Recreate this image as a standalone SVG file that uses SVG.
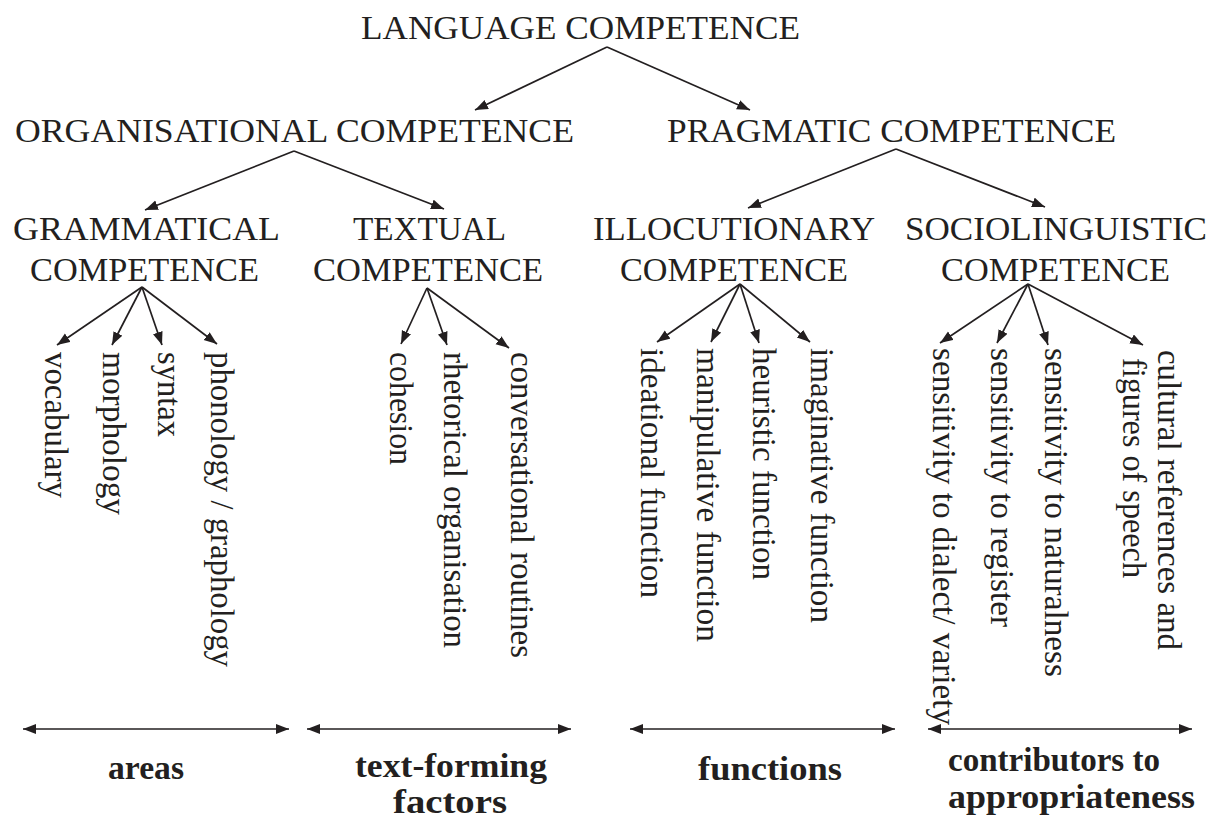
<svg xmlns="http://www.w3.org/2000/svg" width="1210" height="825" viewBox="0 0 1210 825">
<style>
text{font-family:"Liberation Serif","Times New Roman",serif;fill:#231f20}
.h{font-size:34px}
.r{font-size:33px}
.b{font-size:33px;font-weight:bold}
.c line{stroke:#231f20;stroke-width:1.7}
.a line{marker-end:url(#ah)}
.d line{marker-start:url(#ahs);marker-end:url(#ah)}
</style>
<defs>
<marker id="ah" markerUnits="userSpaceOnUse" markerWidth="14" markerHeight="11" refX="13" refY="5" orient="auto"><path d="M0,0 L13,5 L0,10 z" fill="#231f20"/></marker>
<marker id="ahs" markerUnits="userSpaceOnUse" markerWidth="14" markerHeight="11" refX="13" refY="5" orient="auto-start-reverse"><path d="M0,0 L13,5 L0,10 z" fill="#231f20"/></marker>
</defs>
<rect width="1210" height="825" fill="#fff"/>
<g id="connectors" class="c">
<g class="a">
<line x1="607" y1="47" x2="475" y2="110"/>
<line x1="607" y1="47" x2="750" y2="110"/>
<line x1="294" y1="151" x2="145" y2="210"/>
<line x1="294" y1="151" x2="444" y2="209"/>
<line x1="896" y1="149" x2="748" y2="208"/>
<line x1="896" y1="149" x2="1045" y2="207"/>
<line x1="142" y1="287" x2="57" y2="345"/>
<line x1="142" y1="287" x2="112" y2="345"/>
<line x1="142" y1="287" x2="162" y2="345"/>
<line x1="142" y1="287" x2="217" y2="344"/>
<line x1="427" y1="288" x2="401" y2="344"/>
<line x1="427" y1="288" x2="447" y2="345"/>
<line x1="427" y1="288" x2="509" y2="348"/>
<line x1="740" y1="284" x2="657" y2="342"/>
<line x1="740" y1="284" x2="711" y2="342"/>
<line x1="740" y1="284" x2="759" y2="343"/>
<line x1="740" y1="284" x2="810" y2="342"/>
<line x1="1028" y1="284" x2="940" y2="343"/>
<line x1="1028" y1="284" x2="997" y2="343"/>
<line x1="1028" y1="284" x2="1048" y2="345"/>
<line x1="1028" y1="284" x2="1143" y2="345"/>
</g>
<g class="d">
<line x1="23" y1="729" x2="289" y2="729"/>
<line x1="307" y1="729" x2="571" y2="729"/>
<line x1="630" y1="729" x2="895" y2="729"/>
<line x1="928" y1="729" x2="1192" y2="729"/>
</g>
</g>
<g id="language"><text class="h" x="361" y="39" textLength="439" lengthAdjust="spacingAndGlyphs">LANGUAGE COMPETENCE</text></g>
<g id="organisational"><text class="h" x="15" y="142" textLength="559" lengthAdjust="spacingAndGlyphs">ORGANISATIONAL COMPETENCE</text></g>
<g id="pragmatic"><text class="h" x="667" y="142" textLength="449" lengthAdjust="spacingAndGlyphs">PRAGMATIC COMPETENCE</text></g>
<g id="grammatical"><text class="h" x="13" y="240" textLength="267" lengthAdjust="spacingAndGlyphs">GRAMMATICAL</text><text class="h" x="30" y="281" textLength="229" lengthAdjust="spacingAndGlyphs">COMPETENCE</text></g>
<g id="textual"><text class="h" x="353" y="240" textLength="153" lengthAdjust="spacingAndGlyphs">TEXTUAL</text><text class="h" x="313" y="281" textLength="230" lengthAdjust="spacingAndGlyphs">COMPETENCE</text></g>
<g id="illocutionary"><text class="h" x="593" y="240" textLength="282" lengthAdjust="spacingAndGlyphs">ILLOCUTIONARY</text><text class="h" x="620" y="281" textLength="228" lengthAdjust="spacingAndGlyphs">COMPETENCE</text></g>
<g id="sociolinguistic"><text class="h" x="905" y="240" textLength="302" lengthAdjust="spacingAndGlyphs">SOCIOLINGUISTIC</text><text class="h" x="941" y="281" textLength="229" lengthAdjust="spacingAndGlyphs">COMPETENCE</text></g>
<g id="vocabulary"><text class="r" transform="translate(45,352) rotate(90)" textLength="146" lengthAdjust="spacingAndGlyphs">vocabulary</text></g>
<g id="morphology"><text class="r" transform="translate(103,352) rotate(90)" textLength="163" lengthAdjust="spacingAndGlyphs">morphology</text></g>
<g id="syntax"><text class="r" transform="translate(158,352) rotate(90)" textLength="85" lengthAdjust="spacingAndGlyphs">syntax</text></g>
<g id="phonology"><text class="r" transform="translate(211,352) rotate(90)" textLength="315" lengthAdjust="spacingAndGlyphs">phonology / graphology</text></g>
<g id="cohesion"><text class="r" transform="translate(390,352) rotate(90)" textLength="113" lengthAdjust="spacingAndGlyphs">cohesion</text></g>
<g id="rhetorical"><text class="r" transform="translate(444,352) rotate(90)" textLength="296" lengthAdjust="spacingAndGlyphs">rhetorical organisation</text></g>
<g id="conversational"><text class="r" transform="translate(511,352) rotate(90)" textLength="306" lengthAdjust="spacingAndGlyphs">conversational routines</text></g>
<g id="ideational"><text class="r" transform="translate(641,348) rotate(90)" textLength="250" lengthAdjust="spacingAndGlyphs">ideational function</text></g>
<g id="manipulative"><text class="r" transform="translate(697,348) rotate(90)" textLength="294" lengthAdjust="spacingAndGlyphs">manipulative function</text></g>
<g id="heuristic"><text class="r" transform="translate(753,348) rotate(90)" textLength="232" lengthAdjust="spacingAndGlyphs">heuristic function</text></g>
<g id="imaginative"><text class="r" transform="translate(811,348) rotate(90)" textLength="275" lengthAdjust="spacingAndGlyphs">imaginative function</text></g>
<g id="dialect"><text class="r" transform="translate(933,348) rotate(90)" textLength="377" lengthAdjust="spacingAndGlyphs">sensitivity to dialect/ variety</text></g>
<g id="register"><text class="r" transform="translate(991,348) rotate(90)" textLength="279" lengthAdjust="spacingAndGlyphs">sensitivity to register</text></g>
<g id="naturalness"><text class="r" transform="translate(1045,348) rotate(90)" textLength="329" lengthAdjust="spacingAndGlyphs">sensitivity to naturalness</text></g>
<g id="cultural"><text class="r" transform="translate(1158,350) rotate(90)" textLength="300" lengthAdjust="spacingAndGlyphs">cultural references and</text><text class="r" transform="translate(1123,358) rotate(90)" textLength="220" lengthAdjust="spacingAndGlyphs">figures of speech</text></g>
<g id="areas"><text class="b" x="108" y="779" textLength="76" lengthAdjust="spacingAndGlyphs">areas</text></g>
<g id="textforming"><text class="b" x="355" y="777" textLength="192" lengthAdjust="spacingAndGlyphs">text-forming</text><text class="b" x="393" y="813" textLength="114" lengthAdjust="spacingAndGlyphs">factors</text></g>
<g id="functions"><text class="b" x="698" y="780" textLength="144" lengthAdjust="spacingAndGlyphs">functions</text></g>
<g id="contributors"><text class="b" x="948" y="771" textLength="212" lengthAdjust="spacingAndGlyphs">contributors to</text><text class="b" x="948" y="808" textLength="247" lengthAdjust="spacingAndGlyphs">appropriateness</text></g>
</svg>
